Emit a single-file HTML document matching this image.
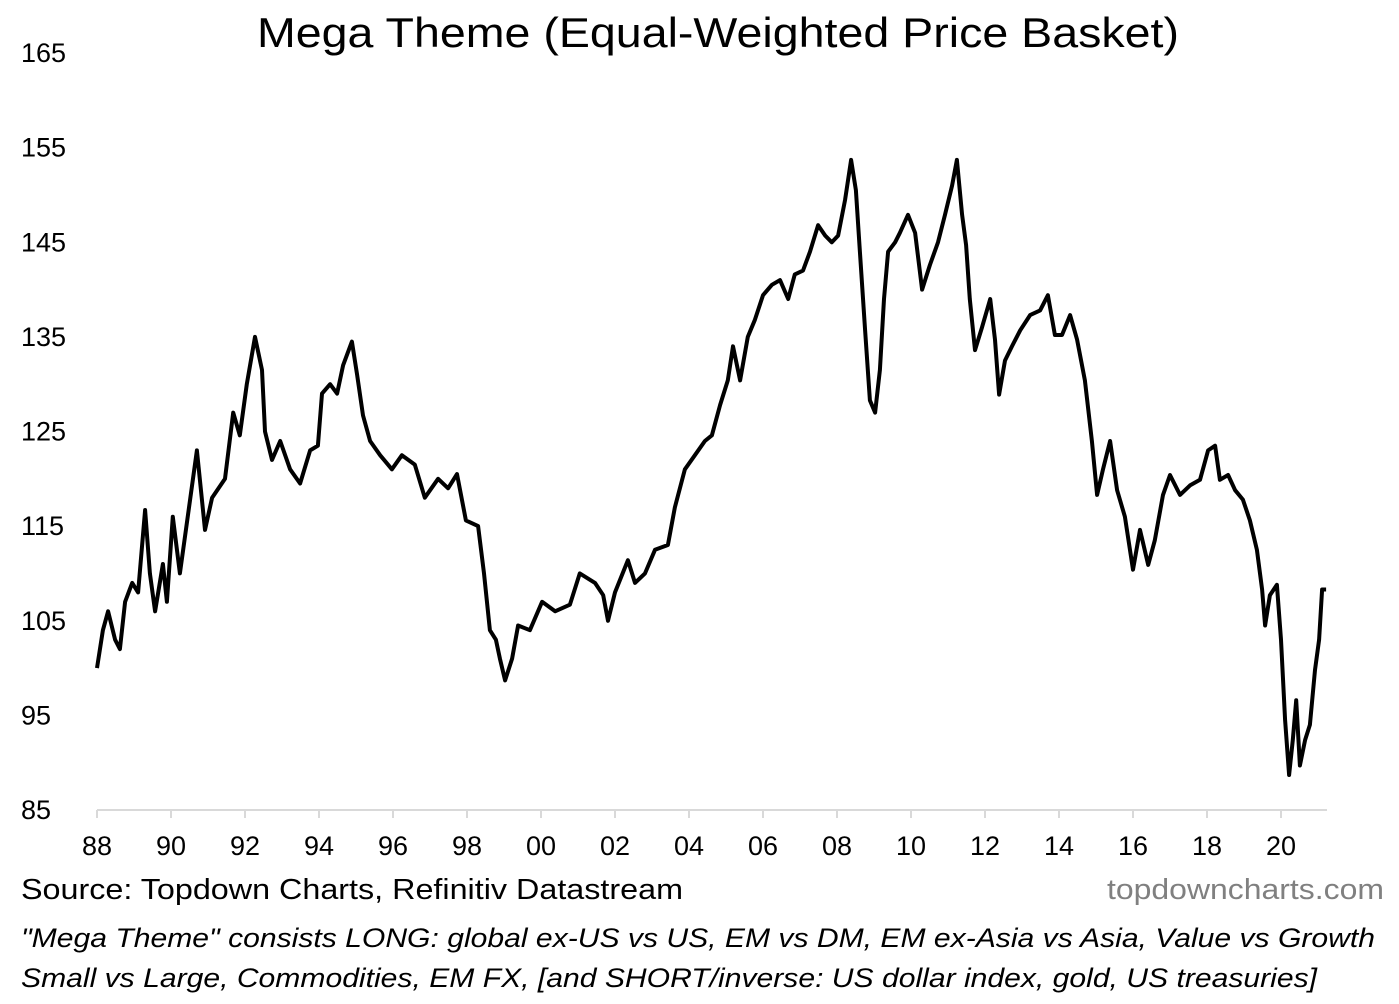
<!DOCTYPE html>
<html><head><meta charset="utf-8"><style>
html,body{margin:0;padding:0;background:#fff;}
svg{display:block;font-family:"Liberation Sans",Arial,sans-serif;}
</style></head><body>
<svg id="chart" width="1399" height="1004" viewBox="0 0 1399 1004">
<text x="718" y="47" font-size="42" text-anchor="middle" textLength="922" lengthAdjust="spacingAndGlyphs">Mega Theme (Equal-Weighted Price Basket)</text>
<g id="yaxis"></g>
<g id="xaxis"></g>
<path id="line" fill="none" stroke="#000" stroke-width="4" stroke-linejoin="round"></path>
<text x="21" y="899" font-size="29" textLength="662" lengthAdjust="spacingAndGlyphs">Source: Topdown Charts, Refinitiv Datastream</text>
<text x="1384" y="899" font-size="29" fill="#808080" text-anchor="end" textLength="277" lengthAdjust="spacingAndGlyphs">topdowncharts.com</text>
<text x="21" y="947" font-size="27" font-style="italic" textLength="1354" lengthAdjust="spacingAndGlyphs">"Mega Theme" consists LONG: global ex-US vs US, EM vs DM, EM ex-Asia vs Asia, Value vs Growth</text>
<text x="21" y="987" font-size="27" font-style="italic" textLength="1296" lengthAdjust="spacingAndGlyphs">Small vs Large, Commodities, EM FX, [and SHORT/inverse: US dollar index, gold, US treasuries]</text>
</svg>
<script>
const yTicks=[85,95,105,115,125,135,145,155,165];
const xTickYears=[1988,1990,1992,1994,1996,1998,2000,2002,2004,2006,2008,2010,2012,2014,2016,2018,2020];
const xTickLabels=["88","90","92","94","96","98","00","02","04","06","08","10","12","14","16","18","20"];
const years=[1988.00,1988.16,1988.30,1988.49,1988.62,1988.76,1988.95,1989.11,1989.30,1989.43,1989.57,1989.78,1989.89,1990.05,1990.24,1990.70,1990.92,1991.11,1991.46,1991.68,1991.86,1992.05,1992.27,1992.46,1992.54,1992.73,1992.95,1993.22,1993.49,1993.76,1993.97,1994.08,1994.30,1994.49,1994.65,1994.89,1995.03,1995.19,1995.38,1995.65,1995.97,1996.24,1996.59,1996.86,1997.22,1997.49,1997.73,1997.97,1998.30,1998.46,1998.62,1998.78,1998.89,1999.03,1999.22,1999.38,1999.70,2000.03,2000.38,2000.78,2001.05,2001.46,2001.68,2001.81,2002.00,2002.35,2002.54,2002.81,2003.08,2003.43,2003.62,2003.89,2004.16,2004.43,2004.62,2004.84,2005.05,2005.19,2005.38,2005.59,2005.78,2006.00,2006.24,2006.46,2006.68,2006.86,2007.08,2007.27,2007.49,2007.68,2007.86,2008.03,2008.22,2008.38,2008.51,2008.62,2008.76,2008.89,2009.03,2009.16,2009.27,2009.38,2009.57,2009.70,2009.92,2010.11,2010.30,2010.51,2010.73,2010.92,2011.11,2011.24,2011.38,2011.49,2011.59,2011.73,2011.92,2012.14,2012.27,2012.38,2012.54,2012.73,2012.95,2013.22,2013.49,2013.70,2013.89,2014.08,2014.30,2014.49,2014.70,2014.89,2015.03,2015.19,2015.38,2015.57,2015.78,2016.00,2016.19,2016.41,2016.59,2016.81,2017.00,2017.27,2017.54,2017.81,2018.03,2018.22,2018.35,2018.57,2018.76,2018.97,2019.16,2019.35,2019.49,2019.57,2019.70,2019.89,2020.00,2020.11,2020.22,2020.32,2020.41,2020.51,2020.65,2020.78,2020.92,2021.03,2021.11,2021.22];
const values=[100,104,106,103,102,107,109,108,116.7,110,106,111,107,116,110,123,114.6,118,120,127,124.6,130,135,131.5,125,122,124,121,119.5,123,123.5,129,130,129,132,134.5,131,126.7,124,122.5,121,122.5,121.5,118,120,119,120.5,115.6,115,110,104,103,101,98.7,101,104.5,104,107,106,106.7,110,109,107.7,105,108,111.4,109,110,112.5,113,117,121,122.5,124,124.6,127.8,130.4,134,130.4,135,136.8,139.4,140.5,141,139,141.6,142,144,146.8,145.7,145,145.7,149.5,153.7,150.5,144,135.7,128.3,127,131.5,139,144,145,146,147.9,146,140,142.6,145,147.9,151,153.7,147.9,144.7,139,133.6,136,139,134.7,128.9,132.5,134,135.7,137.3,137.8,139.4,135.2,135.2,137.3,134.7,130.4,124,118.3,121,124,118.8,116,110.4,114.6,110.9,113.5,118.3,120.4,118.3,119.3,119.9,123,123.5,119.9,120.4,118.8,117.8,115.6,112.5,108.3,104.5,107.7,108.8,103,94.5,88.7,92.4,96.6,89.7,92.4,94,99.8,103,108.3,108.3];
const X0=97,PXY=37,Y0=810,PXV=9.4625;
function xs(y){return X0+(y-1988)*PXY;}
function ys(v){return Y0-(v-85)*PXV;}
const NS="http://www.w3.org/2000/svg";
const ya=document.getElementById('yaxis'),xa=document.getElementById('xaxis');
yTicks.forEach(t=>{const e=document.createElementNS(NS,'text');


e.setAttribute('x',21);e.setAttribute('y',ys(t)+9);e.setAttribute('font-size','27');e.textContent=t;ya.appendChild(e);});
const ax=document.createElementNS(NS,'line');


ax.setAttribute('x1',X0);ax.setAttribute('x2',1327);ax.setAttribute('y1',Y0);ax.setAttribute('y2',Y0);ax.setAttribute('stroke','#d9d9d9');ax.setAttribute('stroke-width','2');xa.appendChild(ax);
xTickYears.forEach((yr,i)=>{const l=document.createElementNS(NS,'line');


l.setAttribute('x1',xs(yr));l.setAttribute('x2',xs(yr));l.setAttribute('y1',Y0);l.setAttribute('y2',Y0+8);l.setAttribute('stroke','#d9d9d9');l.setAttribute('stroke-width','2');xa.appendChild(l);
const t=document.createElementNS(NS,'text');


t.setAttribute('x',xs(yr));t.setAttribute('y',855);t.setAttribute('font-size','27');t.setAttribute('text-anchor','middle');t.textContent=xTickLabels[i];xa.appendChild(t);});
document.getElementById('line').setAttribute('d',years.map((y,i)=>(i?'L':'M')+xs(y).toFixed(1)+','+ys(values[i]).toFixed(1)).join(''));
</script>
</body></html>
